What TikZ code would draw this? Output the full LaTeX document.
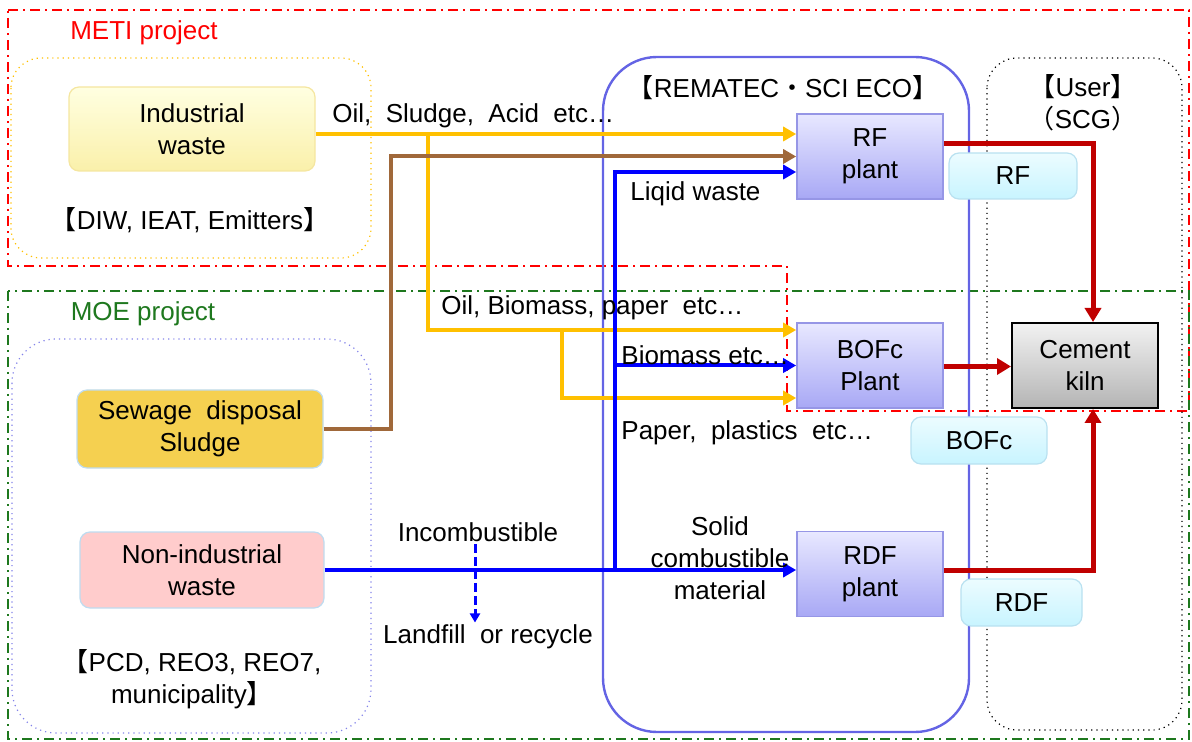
\documentclass[tikz,border=0pt]{standalone}
\usepackage{fontspec}
\setmainfont{Liberation Sans}
\newfontfamily\cjk{Noto Sans CJK JP}
\usetikzlibrary{positioning,arrows.meta}
\definecolor{oilyel}{RGB}{255,192,0}
\definecolor{sludgebr}{RGB}{160,104,58}
\definecolor{fuelred}{RGB}{192,0,0}
\definecolor{remablue}{RGB}{100,100,228}
\definecolor{metired}{RGB}{255,0,0}
\definecolor{moegreen}{RGB}{30,120,30}
\definecolor{paleedge}{RGB}{190,220,240}
\newcommand\lbk{{\cjk 【}}
\newcommand\rbk{{\cjk 】}}
\newcommand\diagfont{\fontsize{13}{16}\selectfont}
\tikzset{
  flow/.style={line width=2pt, -{Triangle[length=6.5pt,width=7pt]}},
  oil/.style={flow, draw=oilyel},
  sludge/.style={flow, draw=sludgebr},
  water/.style={flow, draw=blue},
  fuel/.style={line width=2.5pt, draw=fuelred, -{Triangle[length=7pt,width=8pt]}},
  drop/.style={line width=1.5pt, draw=blue, dash pattern=on 4.5pt off 2pt, -{Triangle[length=4.5pt,width=5pt]}},
  projframe/.style={line width=1pt, dash pattern=on 5pt off 2.5pt on 1pt off 2.5pt},
  srcbox/.style={rounded corners=5pt, align=center, inner sep=0pt, minimum width=123pt, minimum height=40pt, draw=paleedge, line width=0.6pt},
  plant/.style={align=center, inner sep=0pt, minimum width=73pt, minimum height=42.5pt, draw={rgb,255:red,150;green,150;blue,230}, line width=0.8pt, top color={rgb,255:red,232;green,232;blue,255}, bottom color={rgb,255:red,168;green,168;blue,245}},
  tag/.style={rounded corners=5pt, inner sep=0pt, minimum height=23pt, draw={rgb,255:red,185;green,225;blue,240}, line width=0.6pt, top color={rgb,255:red,236;green,252;blue,255}, bottom color={rgb,255:red,200;green,244;blue,255}},
  note/.style={align=center, inner sep=1pt}
}
\begin{document}
\begin{tikzpicture}[x=0.5pt,y=-0.5pt,font=\diagfont]
  \useasboundingbox (0,0) rectangle (1192,742);
  % project frames
  \draw[projframe, metired] (8,10) -- (1189,10) -- (1189,411) -- (787,411) -- (787,266) -- (8,266) -- cycle;
  \draw[projframe, moegreen] (8,291) rectangle (1189,739);
  \node[text=metired] (meti) at (144,33) {METI project};
  \node[text=moegreen] (moe) at (143,314) {MOE project};

  % groups
  \draw[oilyel, dotted, line width=0.6pt, rounded corners=15pt] (11,58) rectangle (371,258);
  \draw[remablue!80, dotted, line width=0.6pt, rounded corners=22pt] (12,339) rectangle (371,733);
  \draw[remablue, line width=1.2pt, rounded corners=27pt] (603,57) rectangle (969,732);
  \draw[black, dotted, line width=0.6pt, rounded corners=15pt] (987,58) rectangle (1182,730);

  % sources
  \node[srcbox, draw={rgb,255:red,245;green,230;blue,160}, top color={rgb,255:red,255;green,255;blue,225}, bottom color={rgb,255:red,250;green,240;blue,170}, minimum height=42pt] (ind) at (192,129) {Industrial\\waste};
  \node[note] (diw) at (190,220) {\lbk DIW, IEAT, Emitters\rbk};
  \node[srcbox, fill={rgb,255:red,245;green,208;blue,80}, minimum height=39pt] (sew) at (200,429) {Sewage\ \ disposal\\Sludge};
  \node[srcbox, fill={rgb,255:red,255;green,204;blue,204}, minimum width=122pt, minimum height=38pt] (non) at (202,570) {Non-industrial\\waste};
  \node[note] (pcd) at (192,679) {\lbk PCD, REO3, REO7,\\municipality\rbk};

  % plants
  \node[note] (rema) at (783,88) {\lbk REMATEC{\cjk ・}SCI ECO\rbk};
  \node[plant] (rf) at (870,156.5) {RF\\plant};
  \node[plant] (bofc) at (870,365.5) {BOFc\\Plant};
  \node[plant] (rdf) at (870,574) {RDF\\plant};

  % user
  \node[note] (user) at (1083,103) {\lbk User\rbk\\{\cjk （}SCG{\cjk ）}};
  \node[plant, draw=black, line width=1pt, top color={rgb,255:red,242;green,242;blue,242}, bottom color={rgb,255:red,180;green,180;blue,180}] (kiln) at (1085,365.5) {Cement\\kiln};

  \node[tag, minimum width=64pt] (rftag) at (1013,176) {RF};
  \node[tag, minimum width=68pt, minimum height=23.5pt] (boftag) at (979,440.5) {BOFc};
  \node[tag, minimum width=60.5pt, minimum height=23.5pt] (rdftag) at (1021.5,602.5) {RDF};

  % junctions
  \coordinate (yj1) at (428,134);
  \coordinate (yj2) at (562,330);
  \coordinate (yj3) at (562,398);
  \coordinate (bj) at (391,156.5);
  \coordinate (blj) at (615,570);
  \coordinate (blt) at (615,172);

  % flows
  \draw[oil] (ind.east |- yj1) -- (rf.west |- yj1);
  \draw[oil] (yj1) |- (bofc.west |- yj2);
  \draw[oil] (yj2) -- (yj3) -- (bofc.west |- yj3);
  \draw[sludge] (sew.east) -| (bj) -- (rf.west);
  \draw[water] (non.east) -- (rdf.west |- non.east);
  \draw[water] (blj) -- (blt) -- (rf.west |- blt);
  \draw[water] (blj |- bofc.west) -- (bofc.west);

  \draw[fuel] (rf.east |- 0,144) -| ([xshift=4pt]kiln.north);
  \draw[fuel] ([yshift=-0.5pt]bofc.east) -- ([yshift=-0.5pt]kiln.west);
  \draw[fuel] (rdf.east |- non.east) -| ([xshift=4pt]kiln.south);

  % flow labels
  \node[note, anchor=west] (oil1) at (330,116) {Oil,\ \ Sludge,\ \ Acid\ \ etc…};
  \node[note, anchor=west] (liq) at (628,194) {Liqid waste};
  \node[note, anchor=west] (oil2) at (439,308) {Oil, Biomass,\ paper\ \ etc…};
  \node[note, anchor=west] (bio) at (619,355) {Biomass\ etc…};
  \node[note, anchor=west] (pap) at (619,433) {Paper,\ \ plastics\ \ etc…};
  \node[note] (inc) at (478,532) {Incombustible};
  \node[note] (lf) at (488,637) {Landfill\ \ or\ recycle};
  \node[note] (solid) at (720,558) {Solid\\combustible\\material};
  \draw[drop] (inc.south -| 475,0) -- (lf.north -| 475,0);
\end{tikzpicture}
\end{document}
